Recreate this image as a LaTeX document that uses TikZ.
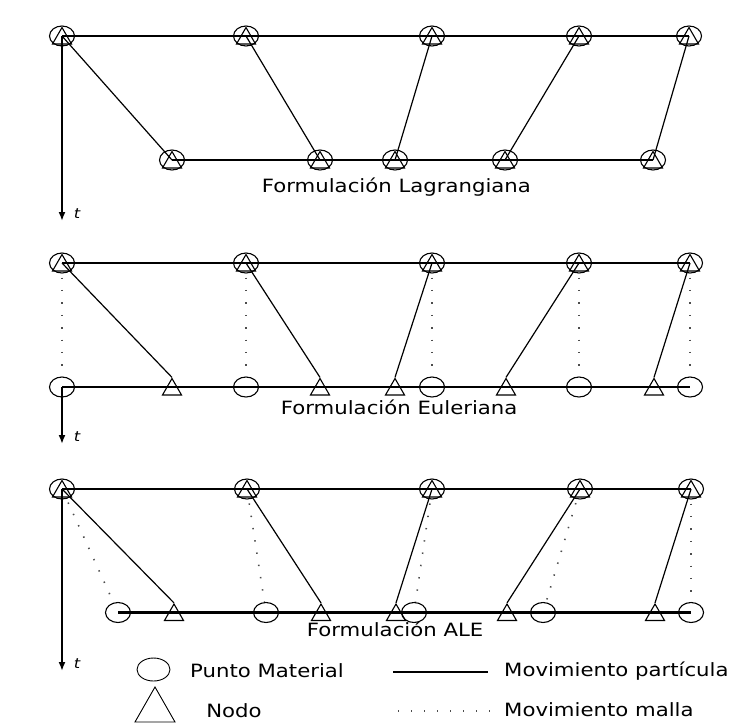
\documentclass[tikz,border=0pt]{standalone}
\usepackage{fontspec}
\setmainfont{DejaVu Sans}[FakeStretch=1.16]
\usetikzlibrary{shapes.geometric,arrows.meta}

\begin{document}
\begin{tikzpicture}[x=1pt,y=-1pt,
  pm/.style={ellipse,draw,line width=1.1pt,minimum width=25pt,minimum height=20pt,inner sep=0pt},
  nd/.style={regular polygon,regular polygon sides=3,draw,line width=1.1pt,minimum size=22pt,inner sep=0pt},
  mainline/.style={line width=2.4pt},
  partline/.style={line width=1.2pt},
  meshline/.style={line width=1.6pt,black!70,dash pattern=on 1.4pt off 11pt},
  taxis/.style={line width=2pt,-{Latex[length=9pt,width=7pt]}},
  captxt/.style={font=\fontsize{18.3}{22}\selectfont,anchor=base west,inner sep=0pt},
  ttxt/.style={font=\fontsize{14}{16}\selectfont\itshape,inner sep=0pt}]

\useasboundingbox (0,0) rectangle (751,724);

% ---------- Lagrangian formulation ----------
\foreach \i/\x in {1/62,2/246,3/432,4/579,5/689} {
  \node[pm] (la\i) at (\x,36) {};
  \node[nd] (lat\i) at (\x,38.5) {};
}
\foreach \i/\x in {1/172,2/320,3/395,4/505,5/653} {
  \node[pm] (lb\i) at (\x,160) {};
  \node[nd] (lbt\i) at (\x,162.5) {};
}
\draw[mainline] (la1.center) -- (la5.center);
\draw[mainline] (lb1.center) -- (lb5.center);
\foreach \i in {1,...,5} \draw[partline] (la\i.center) -- (lb\i.center);
\coordinate (lend) at (62,221);
\draw[taxis] (la1.center) -- (lend);
\node[ttxt] (lt) at (77,214) {t};
\node[captxt] (lcap) at (261.7,192.3) {Formulación Lagrangiana};

% ---------- Eulerian formulation ----------
\foreach \i/\x in {1/62,2/246,3/432,4/579,5/690} {
  \node[pm] (ea\i) at (\x,263) {};
  \node[nd] (eat\i) at (\x,265.5) {};
  \node[pm] (ec\i) at (\x,387) {};
}
\foreach \i/\x in {1/172,2/320,3/395,4/506,5/654} {
  \node[nd] (en\i) at (\x,389.5) {};
}
\draw[mainline] (ea1.center) -- (ea5.center);
\draw[mainline] (ec1.center) -- (ec5.center);
\foreach \i in {1,...,5} {
  \draw[partline] (ea\i.center) -- (en\i.corner 1);
  \draw[meshline,shorten <=4pt] (ea\i) -- (ec\i);
}
\coordinate (eend) at (62,444);
\draw[taxis] (ec1.center) -- (eend);
\node[ttxt] (et) at (77,437) {t};
\node[captxt] (ecap) at (280.7,414) {Formulación Euleriana};

% ---------- ALE formulation ----------
\foreach \i/\x in {1/62,2/247,3/432,4/580,5/691} {
  \node[pm] (aa\i) at (\x,489) {};
  \node[nd] (aat\i) at (\x,491.5) {};
}
\foreach \i/\x in {1/118,2/266,3/414,4/543,5/691} {
  \node[pm] (ac\i) at (\x,612.5) {};
}
\foreach \i/\x in {1/174,2/321,3/396,4/507,5/655} {
  \node[nd] (an\i) at (\x,615) {};
}
\draw[mainline] (aa1.center) -- (aa5.center);
\draw[mainline] (ac1.center) -- (ac5.center);
\foreach \i in {1,...,5} {
  \draw[partline] (aa\i.center) -- (an\i.corner 1);
  \draw[meshline,shorten <=4pt] (aa\i) -- (ac\i);
}
\coordinate (aend) at (62,671);
\draw[taxis] (aa1.center) -- (aend);
\node[ttxt] (at) at (77,664) {t};
\node[captxt] (acap) at (306.7,636) {Formulación ALE};

% ---------- legend ----------
\node[pm,line width=0.9pt,minimum width=33pt,minimum height=23pt] (kpm) at (153.5,669.5) {};
\node[captxt] (kpmt) at (190,677) {Punto Material};
\coordinate (kn1) at (135,722);
\coordinate (kn2) at (155,687);
\coordinate (kn3) at (175,722);
\draw[line width=0.9pt] (kn1) -- (kn2) -- (kn3) -- cycle;
\node[captxt,anchor=base] (knt) at (234,717) {Nodo};
\coordinate (ks1) at (393,672);
\coordinate (ks2) at (488,672);
\draw[line width=1.6pt] (ks1) -- (ks2);
\node[captxt] (kst) at (504,676) {Movimiento partícula};
\coordinate (km1) at (398,711);
\coordinate (km2) at (490,711);
\draw[meshline,dash pattern=on 1.4pt off 11.6pt] (km1) -- (km2);
\node[captxt] (kmt) at (504,716) {Movimiento malla};
\end{tikzpicture}
\end{document}
